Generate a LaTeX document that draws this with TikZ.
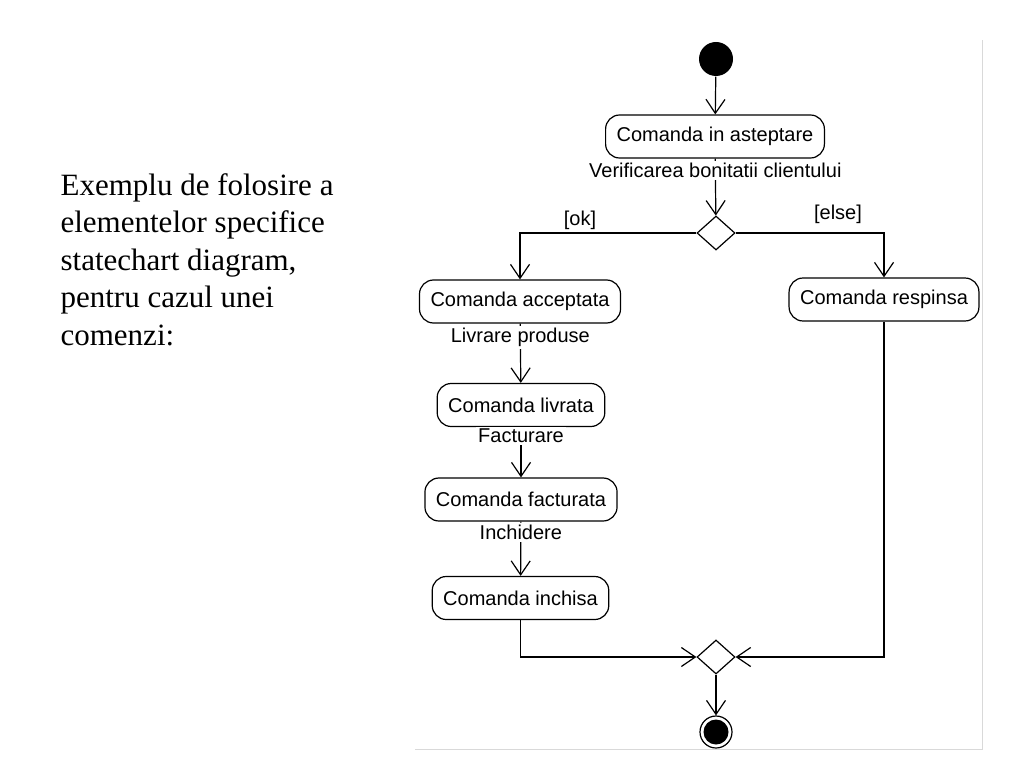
\documentclass[tikz,border=0pt]{standalone}
\usepackage{fontspec}
\setmainfont{Liberation Serif}
\newfontfamily\umlfont{Liberation Sans}
\usetikzlibrary{arrows.meta,shapes.geometric}

\begin{document}
\begin{tikzpicture}[x=1pt, y=-1pt, line width=1.2pt,
    stare/.style={draw, rounded corners=14pt, minimum height=43pt, inner xsep=11pt, font=\umlfont\fontsize{20}{22}\selectfont},
    decizie/.style={draw, diamond, minimum width=38pt, minimum height=34pt, inner sep=0pt},
    eticheta/.style={fill=white, inner sep=2pt, font=\umlfont\fontsize{20}{22}\selectfont},
    garda/.style={above, font=\umlfont\fontsize{20}{22}\selectfont},
    sageata/.style={-{Straight Barb[length=14pt, width=19pt]}}]
             \useasboundingbox (0,0) rectangle (1024,767);
             \draw[line width=1pt, black!15] (415,749) -- (982,749) -- (982,40);

             \node[anchor=base west, align=left, inner sep=0pt, font=\fontsize{31}{37.5}\selectfont] (intro) at (60,345)
               {Exemplu de folosire a\\elementelor specifice\\statechart diagram,\\pentru cazul unei\\comenzi:};

             \node[circle, fill=black, minimum size=34pt, inner sep=0pt] (start) at (716,59) {};
             \node[stare] (asteptare) at (715,136.5) {Comanda in asteptare};
             \node[decizie] (d1) at (716,233) {};
             \node[stare] (acceptata) at (520,301.5) {Comanda acceptata};
             \node[stare] (respinsa) at (884,299.5) {Comanda respinsa};
             \node[stare] (livrata) at (521,405) {Comanda livrata};
             \node[stare] (facturata) at (521,499.5) {Comanda facturata};
             \node[stare] (inchisa) at (520.5,598) {Comanda inchisa};
             \node[decizie] (d2) at (716,657) {};
             \node[circle, draw, minimum size=32pt, inner sep=0pt] (stop) at (716,732) {};
             \node[circle, fill=black, minimum size=25pt, inner sep=0pt] (stopin) at (stop) {};

             \draw[sageata] (start) -- (asteptare);
             \draw[sageata] (asteptare) -- node[eticheta, pos=0.21] {Verificarea bonitatii clientului} (d1);
             \draw[sageata] (d1.west) -| node[garda, pos=0.33, yshift=-1pt] {[ok]} (acceptata.north);
             \draw[sageata] (d1.east) -| node[garda, pos=0.345, yshift=5pt] {[else]} (respinsa.north);
             \draw[sageata] (acceptata) -- node[eticheta, pos=0.23] {Livrare produse} (livrata);
             \draw[sageata] (livrata) -- node[eticheta, pos=0.18] {Facturare} (facturata);
             \draw[sageata] (facturata) -- node[eticheta, pos=0.2] {Inchidere} (inchisa);
             \draw[sageata] (inchisa.south) |- (d2.west);
             \draw[sageata] (respinsa.south) |- (d2.east);
             \draw[sageata] (d2) -- (stop);
             \end{tikzpicture}
\end{document}
